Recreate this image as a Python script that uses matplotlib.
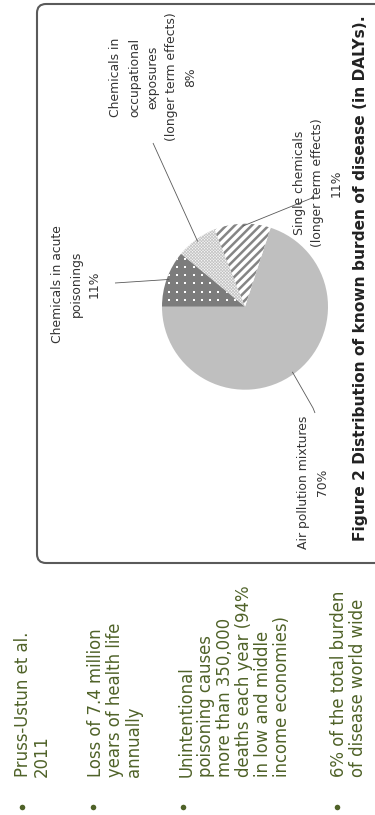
import numpy as np
import matplotlib
matplotlib.use("Agg")
import matplotlib.pyplot as plt
from matplotlib.patches import FancyBboxPatch
from matplotlib.collections import LineCollection

# ---- data -------------------------------------------------------------
categories = [
    "Air pollution mixtures",
    "Single chemicals\n(longer term effects)",
    "Chemicals in\noccupational\nexposures\n(longer term effects)",
    "Chemicals in acute\npoisonings",
]
shares = [70, 11, 8, 11]

bullets = [
    "Pruss-Ustun et al.\n2011",
    "Loss of 7.4 million\nyears of health life\nannually",
    "Unintentional\npoisoning causes\nmore than 350,000\ndeaths each year (94%\nin low and middle\nincome economies)",
    "6% of the total burden\nof disease world wide",
]
caption = "Figure 2 Distribution of known burden of disease (in DALYs)."

# ---- styling / layout ---------------------------------------------------
W, H = 375, 815
face_colors = ["#bfbfbf", "#ffffff", "#f6f6f6", "#7c7c7c"]
label_pos = [(313, 333), (318, 632), (153, 738), (76, 531)]
leader_end = [
    [(313, 407), (315, 402)],
    [(312, 617), (314, 621)],
    [(153, 672)],
    [(115, 532)],
]
bullet_x = [14, 87, 178, 330]
bullet_dot_x = [22, 93, 183, 337]
green = "#4F6228"
pie_center = (245, 508.3)
pie_radius = 83

fig = plt.figure(figsize=(W / 100, H / 100), dpi=100)
ax = fig.add_axes([0, 0, 1, 1])

# slide frame with rounded corners (right side runs off the page)
frame = FancyBboxPatch((37, 252), 400, 559,
                       boxstyle="round,pad=0,rounding_size=9",
                       facecolor="white", edgecolor="#5a5a5a",
                       linewidth=1.5, zorder=0)
ax.add_patch(frame)

wedges, _ = ax.pie(shares, colors=face_colors, startangle=180,
                   counterclock=True, center=pie_center, radius=pie_radius,
                   wedgeprops=dict(linewidth=0))
for w in wedges:
    w.set_zorder(2)

cx, cy = pie_center
R = pie_radius
lo_x, hi_x = cx - R - 10, cx + R + 10
lo_y, hi_y = cy - R - 10, cy + R + 10

# white dot texture on the acute-poisoning slice
gx, gy = np.meshgrid(np.arange(lo_x, hi_x, 8.3), np.arange(lo_y, hi_y, 8.3))
dots = ax.scatter(gx.ravel(), gy.ravel(), s=2.0, marker="s", c="white",
                  linewidths=0, zorder=3)
dots.set_clip_path(wedges[3])

# fine cross-hatch on the occupational slice
segs = []
for c in np.arange(-2 * R - 40, 2 * R + 40, 3.0):
    segs.append([(lo_x, cy + c - (cx - lo_x)), (hi_x, cy + c + (hi_x - cx))])
    segs.append([(lo_x, cy + c + (cx - lo_x)), (hi_x, cy + c - (hi_x - cx))])
cross = LineCollection(segs, colors="#b8b8b8", linewidths=0.45, zorder=3)
ax.add_collection(cross)
cross.set_clip_path(wedges[2])

# diagonal stripes on the single-chemicals slice
segs = []
for c in np.arange(-2 * R - 40, 2 * R + 40, 8.5):
    segs.append([(lo_x, cy + c - (cx - lo_x)), (hi_x, cy + c + (hi_x - cx))])
stripes = LineCollection(segs, colors="#858585", linewidths=1.8, zorder=3)
ax.add_collection(stripes)
stripes.set_clip_path(wedges[1])

# labels with leader lines
for w, name, v, (lx, ly), ends in zip(wedges, categories, shares,
                                      label_pos, leader_end):
    mid = np.deg2rad((w.theta1 + w.theta2) / 2)
    start = (cx + 0.97 * R * np.cos(mid), cy + 0.97 * R * np.sin(mid))
    pts = [start] + ends
    ax.plot([p[0] for p in pts], [p[1] for p in pts], color="#595959",
            lw=0.6, zorder=4, solid_capstyle="butt")
    ax.text(lx, ly, f"{name}\n{v}%", rotation=90, ha="center", va="center",
            multialignment="center", fontsize=8.9, family="DejaVu Sans",
            color="#333333", linespacing=1.56, zorder=5)

# caption
ax.text(360, 537, caption, rotation=90, ha="center", va="center",
        fontsize=11.1, fontweight="bold", family="DejaVu Sans",
        color="#222222")

# bullet points
for bx, dx, txt in zip(bullet_x, bullet_dot_x, bullets):
    ax.text(bx, 38, txt, rotation=90, ha="left", va="bottom",
            multialignment="left", fontsize=11.9, family="DejaVu Sans",
            color=green, linespacing=1.07)
    ax.scatter([dx], [8], s=16, color=green, linewidths=0)

ax.set_xlim(0, W)
ax.set_ylim(0, H)
ax.set_aspect("auto")
ax.axis("off")
fig.savefig("out.png", dpi=100)
